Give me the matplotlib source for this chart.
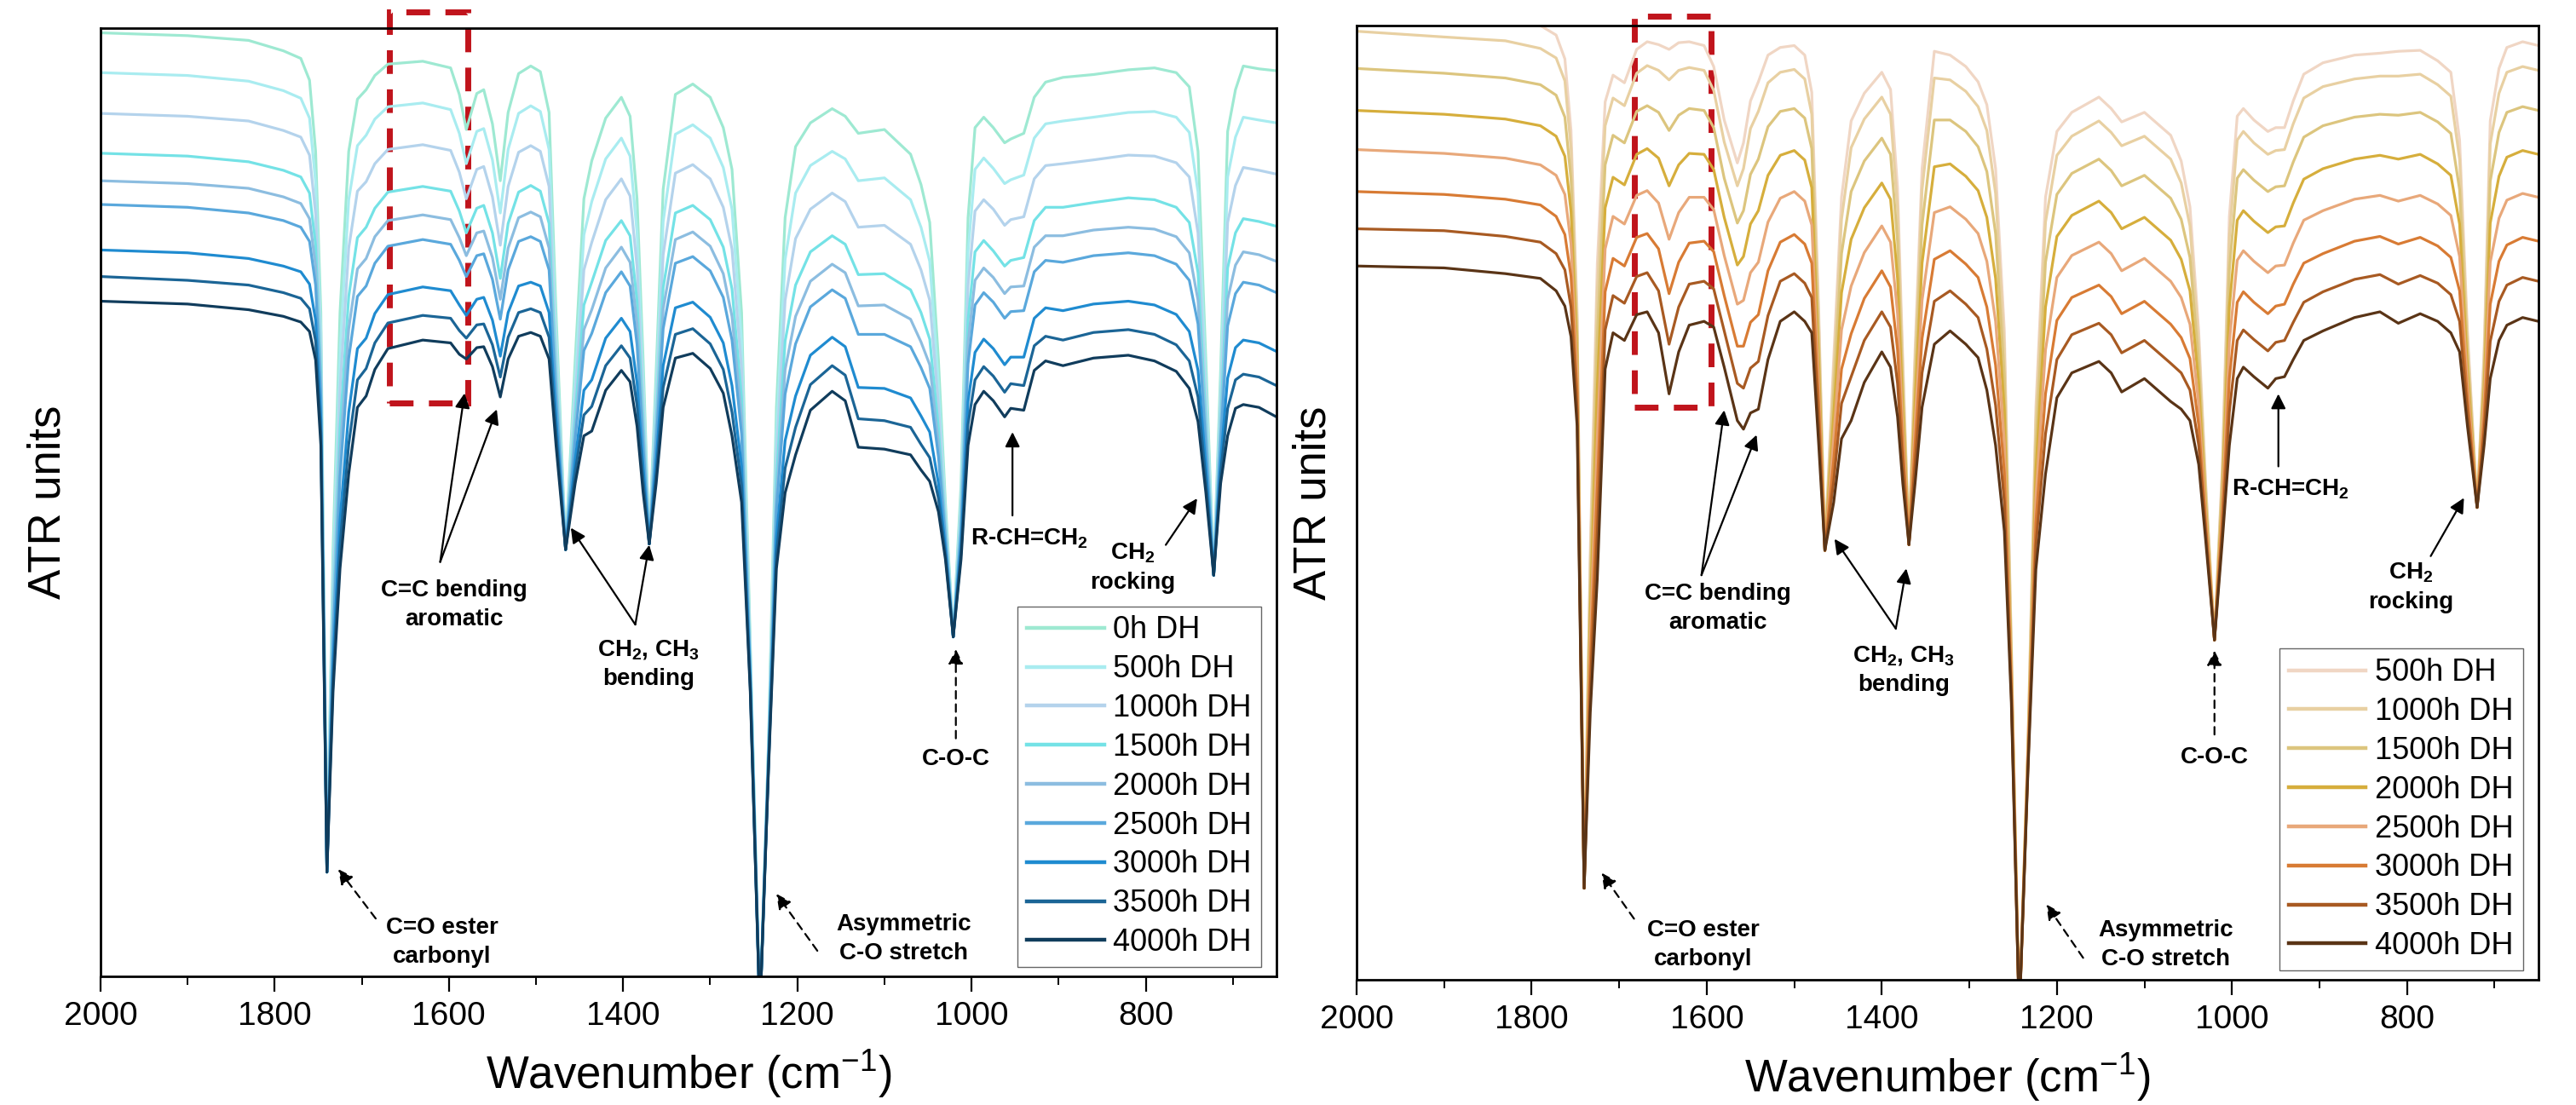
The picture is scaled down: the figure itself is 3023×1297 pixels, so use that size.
import matplotlib
matplotlib.use('Agg')
import matplotlib.pyplot as plt
from matplotlib.patches import Rectangle
from matplotlib.ticker import MultipleLocator

plt.rcParams['font.family'] = ['Liberation Sans', 'DejaVu Sans']
plt.rcParams['mathtext.fontset'] = 'custom'
plt.rcParams['mathtext.rm'] = 'Liberation Sans'
plt.rcParams['mathtext.bf'] = 'Liberation Sans:bold'
plt.rcParams['mathtext.it'] = 'Liberation Sans:italic'

# ---- left panel: spectra (wavenumber knots, ATR units 0-1000)
wn_left = [2000,1900,1830,1790,1770,1760,1753,1747,1740,1733,1725,1715,1705,1695,1685,1670,1630,1598,1588,1580,1568,1560,1550,1541,1532,1520,1506,1495,1485,1477,1466,1455,1445,1436,1420,1402,1392,1384,1377,1370,1362,1354,1340,1320,1300,1285,1275,1264,1254,1243,1233,1224,1214,1202,1185,1160,1145,1130,1100,1070,1058,1048,1038,1030,1021,1012,1004,996,986,975,962,955,940,928,915,895,860,820,790,765,750,740,731,722,714,706,697,688,670,650]

blue_0h = [995,992,987,976,968,945,870,700,110,450,700,870,925,935,950,962,965,958,930,893,931,935,899,839,911,952,960,954,911,700,450,650,820,860,905,927,907,820,650,456,640,830,930,941,927,895,851,700,350,-40,250,600,800,875,900,915,907,889,893,867,835,795,650,500,358,520,800,895,906,895,879,883,889,927,943,948,951,956,958,953,938,870,650,423,640,891,935,960,957,955]
blue_500h = [953,950,944,934,926,905,837,679,110,428,660,819,876,887,904,917,921,914,889,857,891,894,861,805,872,910,918,912,872,679,450,630,782,817,862,884,865,784,629,456,622,796,888,898,884,853,809,670,342,-40,246,574,756,826,855,870,862,839,842,819,790,754,626,491,358,508,764,851,863,852,836,840,845,884,899,902,906,911,912,906,890,827,629,423,622,843,885,906,903,900]
blue_1000h = [910,907,902,892,885,866,804,658,110,405,619,768,828,838,857,872,877,871,848,820,851,854,822,771,833,869,876,870,833,658,450,611,745,774,819,841,823,748,608,456,604,761,847,856,841,811,767,640,335,-40,241,549,713,778,809,826,817,790,792,772,745,713,602,482,358,496,728,807,819,809,792,798,801,841,855,857,861,866,865,858,843,784,608,423,604,795,834,853,850,846]
blue_1500h = [868,865,859,850,843,826,771,637,110,382,578,717,779,790,810,827,833,828,807,784,810,813,784,736,794,827,834,828,794,637,450,592,708,732,776,797,781,712,587,456,586,726,805,813,798,769,725,610,328,-40,236,524,670,729,764,781,772,740,741,724,700,672,578,473,358,484,692,764,776,765,749,755,758,797,811,811,816,821,819,811,795,742,587,423,586,747,784,799,796,791]
blue_2000h = [839,836,831,822,815,799,749,623,110,368,552,683,746,757,780,797,803,798,779,760,784,786,758,714,768,800,806,801,768,623,450,578,682,703,747,769,753,688,573,456,574,704,777,785,770,741,696,590,322,-40,234,506,640,696,733,751,742,707,708,693,669,645,562,467,358,476,668,734,747,737,720,727,728,769,781,781,787,790,788,780,763,713,573,423,574,714,750,764,761,754]
blue_2500h = [814,811,805,797,790,775,729,610,110,354,527,652,717,728,752,770,777,772,755,738,760,762,735,693,745,775,780,775,745,610,450,567,660,678,721,743,728,666,560,456,563,683,752,759,744,716,671,572,318,-40,231,491,614,667,706,724,715,677,677,664,642,620,548,462,358,469,646,708,721,711,694,701,702,743,755,753,760,763,760,751,734,688,560,423,563,686,720,732,729,721]
blue_3000h = [766,763,757,749,743,730,692,587,110,328,481,595,662,673,699,719,727,723,708,697,714,716,692,654,700,728,732,728,700,587,450,545,618,629,673,694,680,626,537,456,543,644,705,711,695,668,623,538,310,-40,226,462,565,612,655,674,664,621,620,610,591,574,520,451,358,455,606,658,672,662,645,653,653,694,705,702,709,712,708,698,680,639,537,423,543,631,663,671,668,659]
blue_3500h = [738,734,729,721,715,704,670,573,110,314,454,561,629,641,668,689,697,694,681,673,687,688,666,632,674,700,704,700,674,573,450,532,592,601,644,665,652,602,523,456,531,621,677,683,667,640,595,518,304,-40,223,445,536,579,624,644,634,588,586,579,561,547,504,445,358,447,582,629,643,633,616,625,623,665,675,671,679,682,677,666,649,611,523,423,531,599,629,635,632,623]
blue_4000h = [712,709,703,696,690,680,650,560,110,300,430,530,600,612,640,662,671,668,656,651,663,664,643,611,651,675,679,675,651,560,450,520,570,575,618,639,627,580,510,456,520,600,652,657,641,615,570,500,300,-40,220,430,510,550,597,617,607,558,556,550,534,522,490,440,358,440,560,603,617,607,590,599,597,639,649,644,652,655,649,638,620,585,510,423,520,570,599,603,600,590]

blue_labels = ['0h DH', '500h DH', '1000h DH', '1500h DH', '2000h DH', '2500h DH', '3000h DH', '3500h DH', '4000h DH']
blue_colors = ['#9ee9d2', '#a9ecf0', '#b4d3ec', '#74e2e6', '#8cbde0', '#5aa8dc', '#1f8bd0', '#1b6596', '#103c5c']

# ---- right panel
wn_right = [2000,1900,1830,1790,1772,1762,1755,1748,1740,1733,1725,1716,1707,1694,1680,1668,1655,1643,1632,1620,1603,1592,1580,1565,1558,1550,1541,1530,1516,1500,1488,1480,1472,1465,1455,1446,1435,1420,1400,1390,1382,1376,1369,1362,1354,1340,1322,1304,1290,1280,1270,1260,1252,1243,1233,1224,1213,1200,1183,1152,1138,1126,1100,1070,1058,1048,1038,1030,1020,1011,1003,994,987,975,959,950,940,930,918,896,860,831,810,785,765,750,740,731,720,712,705,695,686,668,650]

brown_500h = [1018,1012,1008,1000,990,965,890,700,96,450,750,920,948,940,975,983,980,975,982,983,979,957,901,856,877,921,941,969,977,979,969,930,700,450,650,820,900,929,951,933,830,650,456,660,850,973,969,957,941,917,850,680,350,-40,250,600,820,889,909,925,913,899,909,885,858,810,680,520,356,540,800,905,913,901,889,893,893,921,949,961,969,971,973,974,963,951,880,680,495,660,900,955,977,983,979]
brown_1000h = [994,988,984,976,966,942,871,689,96,435,720,895,924,916,950,958,953,943,953,956,953,932,878,832,850,892,910,940,951,954,944,907,687,450,636,797,872,902,925,907,808,638,456,647,828,945,943,931,915,890,824,661,345,-40,247,585,794,864,884,900,888,874,884,860,835,790,667,515,356,533,778,880,889,877,865,869,870,897,924,936,944,947,947,949,938,926,860,671,495,651,876,929,951,957,953]
brown_1500h = [955,950,945,938,927,904,839,672,96,410,672,854,885,877,910,916,909,890,906,913,911,893,840,793,806,844,860,894,910,913,903,871,667,450,615,761,826,858,882,865,774,619,456,627,791,901,901,889,873,847,782,631,336,-40,243,560,752,823,845,860,848,832,843,819,797,757,647,506,356,521,744,840,849,838,826,831,832,857,883,895,904,907,906,909,899,887,828,656,495,636,837,888,909,915,911]
brown_2000h = [911,907,902,895,884,863,805,653,96,383,620,809,841,833,865,871,861,832,854,866,865,849,799,749,758,792,806,843,864,869,859,830,645,450,591,720,776,809,835,818,735,599,456,605,751,852,855,842,827,799,735,597,326,-40,238,533,705,779,801,816,804,787,799,775,755,722,625,496,356,508,705,796,806,795,783,789,790,814,839,850,860,864,860,865,855,843,792,640,495,620,793,842,862,869,865]
brown_2500h = [870,866,861,854,843,823,771,634,96,356,568,766,800,792,822,827,814,776,804,820,820,807,759,708,712,741,752,794,819,826,816,791,623,450,568,681,727,762,790,773,698,578,456,583,712,804,810,797,782,753,690,564,317,-40,234,506,660,736,759,773,761,743,756,732,715,687,603,487,356,496,668,754,764,753,741,748,749,772,796,806,818,822,816,822,813,801,758,625,495,605,752,798,817,824,820]
brown_3000h = [826,823,818,812,800,781,737,615,96,329,516,721,756,748,778,782,766,719,752,772,774,763,717,664,664,689,697,743,773,781,771,751,601,450,544,640,677,714,743,726,660,558,456,561,672,755,764,750,736,705,644,531,307,-40,229,479,614,691,715,728,716,698,711,687,673,651,581,477,356,483,630,710,721,710,698,706,708,729,751,761,774,779,771,778,769,757,722,609,495,589,708,753,770,778,774]
brown_3500h = [787,785,779,773,761,744,705,597,96,305,468,681,717,709,737,741,722,666,705,729,732,724,680,625,620,641,648,696,732,740,730,715,580,450,522,604,632,670,700,684,625,539,456,540,636,711,722,708,694,661,602,500,299,-40,224,455,572,650,676,688,676,657,670,646,636,618,560,469,356,472,595,670,681,671,659,668,670,689,710,721,734,739,729,738,730,718,690,594,495,574,669,711,728,736,732]
brown_4000h = [748,746,740,735,722,706,674,580,96,280,420,640,678,670,697,700,678,614,658,686,690,684,642,586,577,594,598,650,690,700,690,678,560,450,500,567,586,626,658,642,590,520,456,520,600,666,680,666,652,618,560,470,290,-40,220,430,530,610,636,648,636,616,630,606,598,586,540,460,356,460,560,630,642,632,620,630,632,650,670,680,694,700,688,698,690,678,658,580,495,560,630,670,686,694,690]

brown_labels = ['500h DH', '1000h DH', '1500h DH', '2000h DH', '2500h DH', '3000h DH', '3500h DH', '4000h DH']
brown_colors = ['#f0d6c4', '#e8d0a2', '#dcc57e', '#d6ae3c', '#e8a87a', '#d87b34', '#a85a22', '#5a3416']

blue_series = [blue_0h, blue_500h, blue_1000h, blue_1500h, blue_2000h, blue_2500h, blue_3000h, blue_3500h, blue_4000h]
brown_series = [brown_500h, brown_1000h, brown_1500h, brown_2000h, brown_2500h, brown_3000h, brown_3500h, brown_4000h]

fig = plt.figure(figsize=(30.23, 12.97), dpi=100)
ax1 = fig.add_axes([0.0390, 0.1164, 0.4565, 0.8582])
ax2 = fig.add_axes([0.5266, 0.1133, 0.4588, 0.8636])

for y, lab, c in zip(blue_series, blue_labels, blue_colors):
    ax1.plot(wn_left, y, color=c, lw=2.3, label=lab)
for y, lab, c in zip(brown_series, brown_labels, brown_colors):
    ax2.plot(wn_right, y, color=c, lw=2.3, label=lab)


def style_axes(ax, ylabelpad):
    ax.set_xlim(2000, 650)
    ax.set_ylim(0, 1000)
    ax.set_yticks([])
    ax.xaxis.set_major_locator(MultipleLocator(200))
    ax.xaxis.set_minor_locator(MultipleLocator(100))
    ax.tick_params(axis='x', which='major', length=13, width=1.6, labelsize=28, pad=8)
    ax.tick_params(axis='x', which='minor', length=7, width=1.4)
    for s in ax.spines.values():
        s.set_linewidth(2.0)
    ax.set_xlabel('Wavenumber (cm$^{-1}$)', fontsize=38, labelpad=14)
    ax.set_ylabel('ATR units', fontsize=38, labelpad=ylabelpad)
    leg = ax.legend(loc='lower right', bbox_to_anchor=(0.987, 0.01), fontsize=26, frameon=True,
                    fancybox=False, edgecolor='#666666', framealpha=1, handlelength=2.5,
                    handletextpad=0.3, labelspacing=0.3, borderpad=0.3, borderaxespad=0)
    for h in leg.get_lines():
        h.set_linewidth(3.2)


def note(ax, x, y, text, ha='center'):
    ax.text(x, y, text, fontsize=20, fontweight='bold', ha=ha, va='center', linespacing=1.4)


def arrow(ax, tail, head, dashed=False):
    ax.annotate('', xy=head, xytext=tail,
                arrowprops=dict(arrowstyle='-|>', color='black', lw=1.6, mutation_scale=26,
                                linestyle=(0, (4, 3)) if dashed else '-', shrinkA=0, shrinkB=0))


style_axes(ax1, 26)
style_axes(ax2, 18)

# left panel labels
note(ax1, 1594, 392, 'C=C bending\naromatic')
arrow(ax1, (1610, 437), (1582, 615))
arrow(ax1, (1610, 437), (1545, 598))
note(ax1, 1371, 329, 'CH$_\\mathbf{2}$, CH$_\\mathbf{3}$\nbending')
arrow(ax1, (1386, 371), (1460, 473))
arrow(ax1, (1386, 371), (1370, 455))
note(ax1, 1608, 36, 'C=O ester\ncarbonyl')
arrow(ax1, (1684, 61), (1727, 113), dashed=True)
note(ax1, 1078, 40, 'Asymmetric\nC-O stretch')
arrow(ax1, (1177, 27), (1224, 87), dashed=True)
note(ax1, 1018, 229, 'C-O-C')
arrow(ax1, (1018, 251), (1018, 345), dashed=True)
note(ax1, 1001, 462, 'R-CH=CH$_\\mathbf{2}$', ha='left')
arrow(ax1, (953, 486), (953, 574))
note(ax1, 815, 431, 'CH$_\\mathbf{2}$\nrocking')
arrow(ax1, (777, 455), (741, 504))
ax1.add_patch(Rectangle((1668, 605), 1578 - 1668, 1017 - 605, fill=False, edgecolor='#c0141c',
                        lw=5, linestyle=(0, (4, 2.6)), clip_on=False))

# right panel labels
note(ax2, 1587, 389, 'C=C bending\naromatic')
arrow(ax2, (1606, 424), (1580, 597))
arrow(ax2, (1606, 424), (1543, 571))
note(ax2, 1375, 325, 'CH$_\\mathbf{2}$, CH$_\\mathbf{3}$\nbending')
arrow(ax2, (1384, 368), (1454, 462))
arrow(ax2, (1384, 368), (1372, 431))
note(ax2, 1604, 37, 'C=O ester\ncarbonyl')
arrow(ax2, (1683, 64), (1720, 112), dashed=True)
note(ax2, 1076, 37, 'Asymmetric\nC-O stretch')
arrow(ax2, (1170, 23), (1212, 79), dashed=True)
note(ax2, 1020, 233, 'C-O-C')
arrow(ax2, (1020, 257), (1020, 345), dashed=True)
note(ax2, 1000, 514, 'R-CH=CH$_\\mathbf{2}$', ha='left')
arrow(ax2, (947, 538), (947, 614))
note(ax2, 796, 411, 'CH$_\\mathbf{2}$\nrocking')
arrow(ax2, (773, 444), (735, 505))
ax2.add_patch(Rectangle((1683, 600), 1595 - 1683, 1010 - 600, fill=False, edgecolor='#c0141c',
                        lw=5, linestyle=(0, (4, 2.6)), clip_on=False))

fig.savefig('out.png', dpi=100)
